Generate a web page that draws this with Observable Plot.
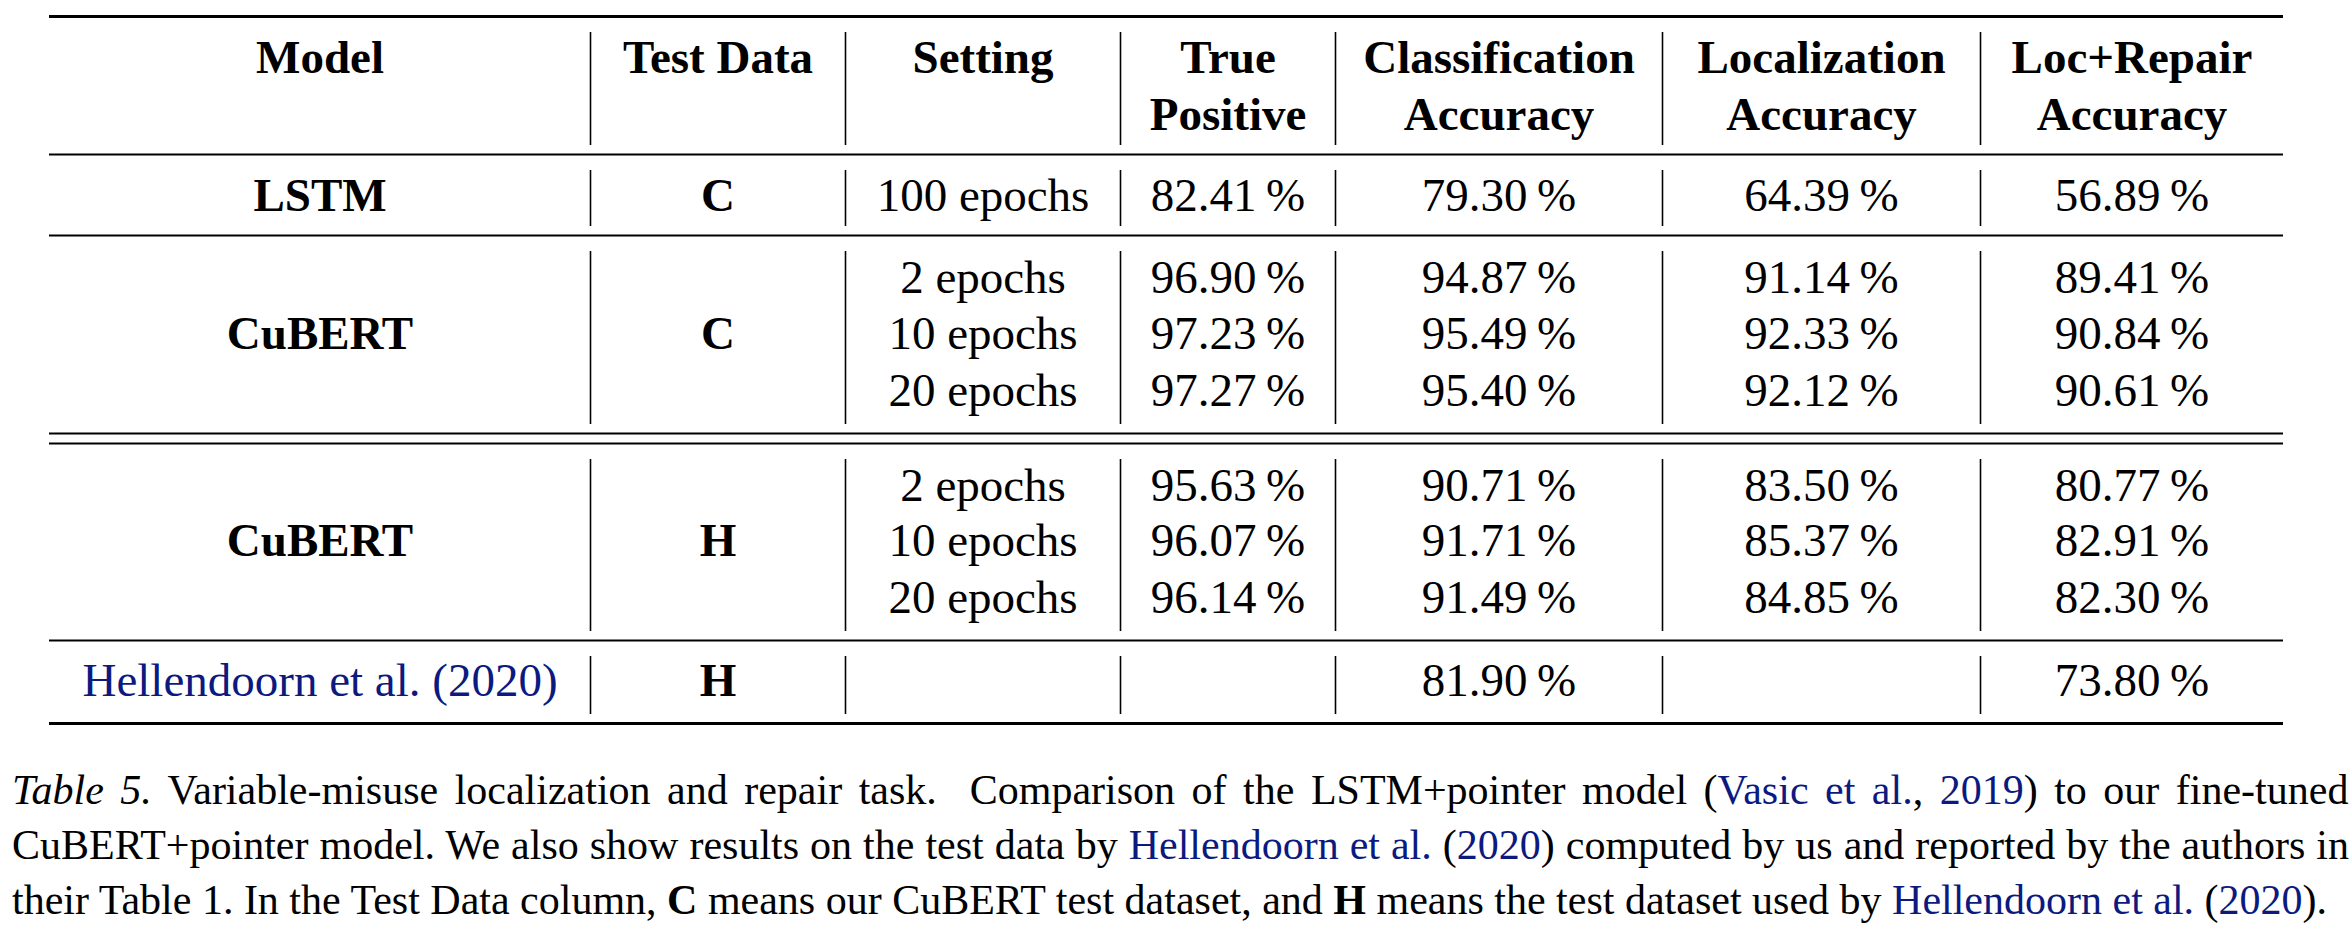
<!DOCTYPE html>
<html>
<head>
<meta charset="utf-8">
<script src="https://cdn.jsdelivr.net/npm/d3@7"></script>
<script src="https://cdn.jsdelivr.net/npm/@observablehq/plot@0.6"></script>
<style>
  html, body { margin: 0; padding: 0; background: white; font-family: 'Liberation Serif', 'DejaVu Serif'; }
  #wrap { position: relative; width: 2352px; height: 926px; overflow: hidden; }
  #chart { position: absolute; left: 0; top: 0; }
  #cap { position: absolute; left: 12px; top: 763px; width: 2340px;
         font-family: 'Liberation Serif', 'DejaVu Serif'; font-size: 42px; line-height: 55px; color: #000; }
  #cap .l { white-space: nowrap; }
  #cap .l1 { word-spacing: 6px; }
  #cap .l2 { word-spacing: 0.5px; }
  #cap .b { color: #0c1a80; }
  #fx { position: absolute; left: 0; top: 0; font: 2px 'DejaVu Sans'; color: white; }
</style>
</head>
<body>
<div id="wrap">
  <div id="chart"></div>
  <div id="cap">
    <div class="l l1"><i>Table 5.</i> Variable-misuse localization and repair task.&nbsp; Comparison of the LSTM+pointer model (<span class="b">Vasic et al.</span>, <span class="b">2019</span>) to our fine-tuned</div>
    <div class="l l2">CuBERT+pointer model. We also show results on the test data by <span class="b">Hellendoorn et al.</span> (<span class="b">2020</span>) computed by us and reported by the authors in</div>
    <div class="l">their Table 1. In the Test Data column, <b>C</b> means our CuBERT test dataset, and <b>H</b> means the test dataset used by <span class="b">Hellendoorn et al.</span> (<span class="b">2020</span>).</div>
  </div>
  <div id="fx">&nbsp;</div>
</div>
<script>
// ---------- data ----------
const headers = [["Model"], ["Test Data"], ["Setting"], ["True", "Positive"],
                 ["Classification", "Accuracy"], ["Localization", "Accuracy"], ["Loc+Repair", "Accuracy"]];
const models = ["LSTM", "CuBERT", "CuBERT", "Hellendoorn et al. (2020)"];
const testData = ["C", "C", "H", "H"];
const settings = ["100 epochs", "2 epochs", "10 epochs", "20 epochs", "2 epochs", "10 epochs", "20 epochs", ""];
const truePositive      = [82.41, 96.90, 97.23, 97.27, 95.63, 96.07, 96.14, null];
const classificationAcc = [79.30, 94.87, 95.49, 95.40, 90.71, 91.71, 91.49, 81.90];
const localizationAcc   = [64.39, 91.14, 92.33, 92.12, 83.50, 85.37, 84.85, null];
const locRepairAcc      = [56.89, 89.41, 90.84, 90.61, 80.77, 82.91, 82.30, 73.80];

// ---------- layout ----------
const W = 2352, H = 745;
const colEdges = [49, 590, 845, 1120, 1335, 1662, 1980, 2283];
const colCenter = colEdges.slice(0, -1).map((e, i) => (e + colEdges[i + 1]) / 2);
const headerLineY = [57, 114];
const rowY = [195, 277, 333, 390, 485, 540, 597, 680];
const blockRows = [[0], [1, 2, 3], [4, 5, 6], [7]];
const hRules = [
  {y: 16, w: 3}, {y: 154, w: 2}, {y: 235, w: 2}, {y: 433, w: 2}, {y: 443, w: 2}, {y: 640, w: 2}, {y: 723, w: 3}
];
const blockSegs = [[16, 154], [154, 235], [235, 433], [443, 640], [640, 723]];
const FS = 47;
const FONT = "Liberation Serif";
const LINK = "#0c1a80";
const fmt = v => v == null ? "" : d3.format(".2f")(v) + "\u2009%";

const headerCells = [];
headers.forEach((lines, c) => lines.forEach((t, k) => headerCells.push({x: colCenter[c], y: headerLineY[k], t})));
const boldBlockCells = [], citationCells = [];
blockRows.forEach((rows, b) => {
  const y = d3.mean(rows, r => rowY[r]);
  (models[b].startsWith("Hellendoorn") ? citationCells : boldBlockCells).push({x: colCenter[0], y, t: models[b]});
  boldBlockCells.push({x: colCenter[1], y, t: testData[b]});
});
const rowCells = [];
settings.forEach((s, r) => {
  rowCells.push({x: colCenter[2], y: rowY[r], t: s});
  rowCells.push({x: colCenter[3], y: rowY[r], t: fmt(truePositive[r])});
  rowCells.push({x: colCenter[4], y: rowY[r], t: fmt(classificationAcc[r])});
  rowCells.push({x: colCenter[5], y: rowY[r], t: fmt(localizationAcc[r])});
  rowCells.push({x: colCenter[6], y: rowY[r], t: fmt(locRepairAcc[r])});
});
const vRules = [];
blockSegs.forEach(([a, b]) => colEdges.slice(1, -1).forEach(x => vRules.push({x, y1: a + 16, y2: b - 9})));

const chart = Plot.plot({
  width: W, height: H, margin: 0,
  x: {type: "linear", domain: [0, W], range: [0, W], axis: null},
  y: {type: "linear", domain: [0, H], range: [0, H], axis: null},
  style: {fontFamily: FONT, background: "white", color: "black"},
  marks: [
    Plot.ruleY(hRules, {y: "y", x1: colEdges[0], x2: colEdges[colEdges.length - 1], strokeWidth: "w", stroke: "black"}),
    Plot.ruleX(vRules, {x: "x", y1: "y1", y2: "y2", stroke: "black", strokeWidth: 1.6}),
    Plot.text(headerCells, {x: "x", y: "y", text: "t", fontSize: FS, fontWeight: "bold", fill: "black"}),
    Plot.text(boldBlockCells, {x: "x", y: "y", text: "t", fontSize: FS, fontWeight: "bold", fill: "black"}),
    Plot.text(citationCells, {x: "x", y: "y", text: "t", fontSize: FS, fill: LINK}),
    Plot.text(rowCells, {x: "x", y: "y", text: "t", fontSize: FS, fill: "black"})
  ]
});
document.getElementById("chart").appendChild(chart);
</script>
</body>
</html>
